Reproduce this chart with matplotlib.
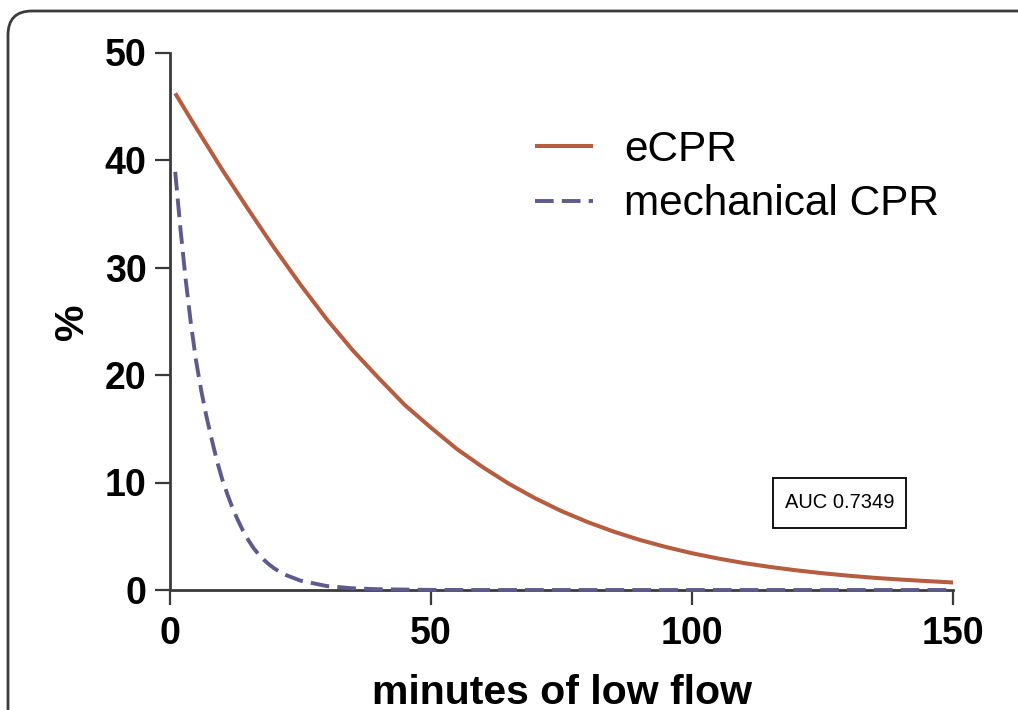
import matplotlib
matplotlib.use("Agg")
import matplotlib.pyplot as plt
from matplotlib.patches import FancyBboxPatch, Rectangle
from matplotlib.transforms import IdentityTransform

plt.rcParams['font.family'] = ['Liberation Sans', 'DejaVu Sans']

# values (minutes of low flow, %)
ecpr_min = [1, 5, 10, 15, 20, 25, 30, 35, 40, 45, 50, 55, 60, 65, 70, 75,
            80, 85, 90, 95, 100, 105, 110, 115, 120, 125, 130, 135, 140, 145, 150]
ecpr_pct = [46.2, 43.0, 39.1, 35.4, 31.8, 28.4, 25.2, 22.3, 19.7, 17.2, 15.1,
            13.1, 11.4, 9.86, 8.52, 7.34, 6.32, 5.43, 4.66, 4.00, 3.42, 2.93,
            2.50, 2.14, 1.83, 1.56, 1.33, 1.13, 0.97, 0.83, 0.70]

mech_min = [1, 2, 3, 4, 5, 6, 7, 8, 9, 10, 11, 12, 13, 14, 15, 16, 17, 18,
            19, 20, 21, 22, 25, 30, 35, 40, 50, 60, 80, 100, 120, 150]
mech_pct = [38.9, 33.6, 28.9, 24.8, 21.3, 18.5, 16.1, 14.0, 12.0, 10.3, 8.9,
            7.6, 6.5, 5.5, 4.65, 3.9, 3.3, 2.8, 2.37, 2.0, 1.7, 1.43, 0.87,
            0.37, 0.16, 0.07, 0.01, 0.0, 0.0, 0.0, 0.0, 0.0]

series_names = ['eCPR', 'mechanical CPR']
auc_text = 'AUC 0.7349'
x_ticks = [0, 50, 100, 150]
y_ticks = [0, 10, 20, 30, 40, 50]

ecpr_color = '#b65c3f'
mech_color = '#5d5a8e'
axis_color = '#3a3a3a'

W, H = 1018, 710
fig = plt.figure(figsize=(W / 100, H / 100), dpi=100)

# rounded frame, only the top-left corner is inside the picture
frame = FancyBboxPatch((8, -40), 1080, H - 11 + 40,
                       boxstyle="round,pad=0,rounding_size=24",
                       transform=IdentityTransform(), fill=False,
                       ec='#3c3c3c', lw=2.0)
fig.patches.append(frame)

ax = fig.add_axes([170 / W, 1 - 590 / H, (953 - 170) / W, (590 - 52.5) / H])

ax.plot(ecpr_min, ecpr_pct, color=ecpr_color, lw=2.9, clip_on=False,
        zorder=3, label=series_names[0], solid_capstyle='butt')
ax.plot(mech_min, mech_pct, color=mech_color, lw=2.8, clip_on=False,
        zorder=3, label=series_names[1], linestyle=(0, (4.8, 2.1)))

ax.set_xlim(0, 150)
ax.set_ylim(0, 50)
ax.set_xticks(x_ticks)
ax.set_yticks(y_ticks)
ax.spines['top'].set_visible(False)
ax.spines['right'].set_visible(False)
for s in ['left', 'bottom']:
    ax.spines[s].set_color(axis_color)
    ax.spines[s].set_linewidth(2.0)
ax.tick_params(direction='out', length=11, width=1.6, color=axis_color,
               labelsize=27)
ax.tick_params(axis='x', pad=7.5)
ax.tick_params(axis='y', pad=6)
plt.setp(ax.get_xticklabels() + ax.get_yticklabels(), fontweight='bold')

ax.set_xlabel('minutes of low flow', fontsize=29.5, fontweight='bold',
              labelpad=16)
ax.set_ylabel('%', fontsize=29.5, fontweight='bold', labelpad=10)

ax.legend(loc='upper left', bbox_to_anchor=(535 / W, 1 - 130 / H),
          bbox_transform=fig.transFigure, frameon=False, fontsize=30.5,
          borderpad=0, borderaxespad=0, handlelength=1.36,
          handletextpad=0.74, labelspacing=0.34)

# AUC box
ax.add_patch(Rectangle((0.770, 0.1153), 0.170, 0.0931, transform=ax.transAxes,
                       fc='white', ec='black', lw=1.3, zorder=4))
ax.text(0.8557, 0.162, auc_text, transform=ax.transAxes, ha='center',
        va='center', fontsize=14.5, zorder=5)

fig.savefig('out.png', dpi=100)
